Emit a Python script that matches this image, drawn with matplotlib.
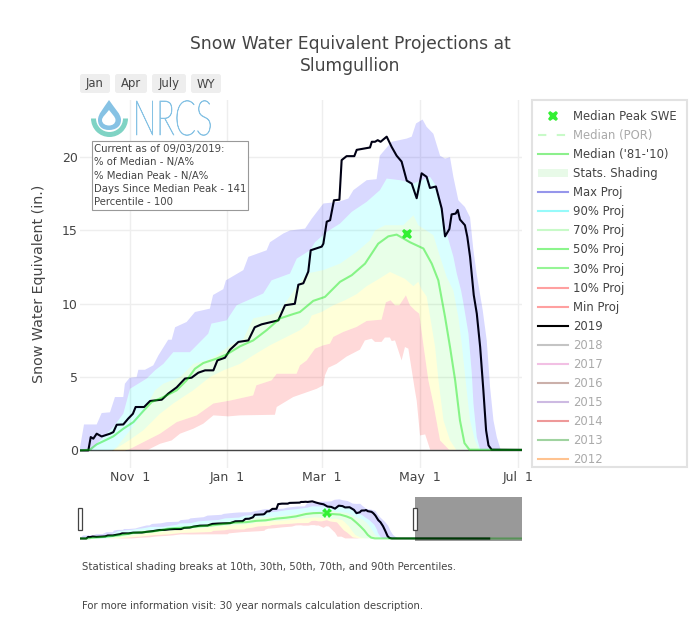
import numpy as np
import matplotlib
matplotlib.use("Agg")
import matplotlib.pyplot as plt
import matplotlib.patheffects as pe
from matplotlib.lines import Line2D
from matplotlib.patches import Patch, Rectangle, FancyBboxPatch, Wedge, PathPatch
from matplotlib.path import Path
from matplotlib.transforms import Affine2D

plt.rcParams['font.family'] = ['DejaVu Sans']

TEXT = '#444444'

# days are counted from Oct 1 of the water year, values in inches
tick_days = [31, 92, 151, 212, 273]
tick_labels = ['Nov  1', 'Jan  1', 'Mar  1', 'May  1', 'Jul  1']
y_ticks = [0, 5, 10, 15, 20]

wy2019_days = [0, 5.2, 6.7, 8.3, 10.4, 13.5, 18.7, 20.8, 22.9, 27, 30, 33, 34.7, 40, 43.7, 51, 55, 60.3, 65.5, 69.6,
               73.8, 78, 83.2, 85.7, 90.4, 93.6, 98.8, 105, 109, 113.3, 123.7, 127.9, 134, 136.2, 139.3, 142.4, 143.9,
               150.8, 151.8, 153.9, 156, 158.4, 161.8, 163.2, 166.3, 171.1, 172.6, 180.9, 182, 184, 185.7, 187.5,
               191.3, 194.4, 197.5, 200.6, 203.8, 206.9, 210, 213.1, 216.2, 218.3, 222, 225.6, 227.7, 230.4, 231.8,
               234.3, 235.6, 237, 240.1, 241.6, 243.3, 245.6, 247.5, 249.6, 251.6, 253.3, 254.8, 256.8, 337]
wy2019_vals = [0, 0, 0.91, 0.8, 1.14, 0.95, 1.14, 1.25, 1.75, 1.77, 2.16, 2.5, 2.96, 2.96, 3.37, 3.46, 3.87, 4.3, 4.9,
               4.96, 5.3, 5.46, 5.46, 6.14, 6.32, 6.87, 7.4, 7.5, 8.4, 8.6, 8.87, 9.9, 10.0, 11.3, 11.4, 12.2, 13.65,
               13.9, 14.1, 15.6, 15.7, 17.06, 17.1, 19.8, 20.07, 20.07, 20.5, 20.66, 21.05, 21.05, 21.16, 21.05,
               21.4, 20.7, 20.1, 19.7, 18.4, 18.2, 17.2, 18.9, 18.66, 17.9, 18.0, 16.5, 14.6, 15.1, 16.1,
               16.15, 16.4, 15.75, 15.36, 14.56, 13.2, 10.6, 9.33, 7.05, 4.1, 1.37, 0.34, 0.05, 0]

median_days = [0, 6.2, 10.4, 15.6, 20.8, 27, 33.3, 39.5, 44.7, 52, 60.3, 66.5, 71.7, 76.9, 85.2, 91.5, 99.8, 108, 116.4,
               124.7, 133, 137.2, 145.5, 152.8, 162.2, 169.5, 177.8, 186, 192.3, 197.5, 205.8, 214.2, 219.4, 223.5,
               227.7, 230.8, 234, 237, 239.8, 242.9, 364]
median_vals = [0, 0.05, 0.41, 0.68, 0.96, 1.48, 1.93, 2.69, 3.3, 3.64, 4.1, 4.78, 5.57, 5.96, 6.26, 6.55, 7.1, 7.5, 8.2,
               9, 9.3, 9.44, 10.2, 10.47, 11.5, 11.95, 12.74, 14.1, 14.6, 14.72, 14.2, 13.77, 12.74, 11.6,
               9.1, 7.05, 4.78, 2.05, 0.5, 0.05, 0]

max_days = [0, 2.5, 10.4, 13.5, 18.7, 21.8, 27, 28, 31, 35.3, 36.4, 40.5, 45.7, 48.9, 55, 57.2, 59.3, 66.5, 71.7, 81,
            83, 89.4, 91, 101.9, 105, 116.4, 118.5, 126.9, 131, 140.4, 144.5, 151.8, 161.1, 167.4, 170.5, 178.8, 185,
            187, 194.4, 203.8, 206.9, 209.6, 213.7, 216.2, 220.4, 224.6, 227.7, 230.8, 232.9, 236, 240.1, 243.3,
            245.4, 247.4, 251.2, 253.7, 255.8, 257.9, 260, 262.4]
max_vals = [0.2, 1.77, 1.77, 2.55, 2.6, 3.64, 3.64, 4.55, 4.96, 5, 5.5, 5.5, 5.8, 6.48, 7.55, 7.55, 8.4, 8.76, 9.44, 9.67,
            10.6, 11, 11.6, 12.3, 13.2, 13.65, 14.2, 14.8, 15.0, 15.13, 15.8, 16.84, 16.95, 17.18, 17.75, 18.43, 18.5,
            20.1, 21.05, 21.27, 21.4, 22.3, 22.57, 22.07, 21.6, 20.1, 19.9, 20, 18.66, 17.06, 16.6, 15.9,
            13.65, 12.06, 9.56, 7.5, 4.3, 2.05, 0.9, 0.05]

p90_days = [0, 7, 10.4, 20.8, 27, 31.2, 41.6, 46.8, 52, 58.2, 68.6, 80, 82, 91.5, 97.7, 114.3, 119.5, 131, 135.2, 143.5,
            146.6, 153.9, 162.2, 169.5, 178.8, 187.1, 191.3, 199.6, 207.9, 218.3, 222.5, 225.6, 228.7, 232.9, 235,
            237.7, 239.2, 242.3, 244.4, 245.4, 247.5, 249.6]
p90_vals = [0, 0, 0.45, 1.6, 2.5, 4.2, 4.9, 5.46, 5.9, 6.7, 6.7, 7.96, 8.65, 8.87, 9.9, 10.7, 11.6, 12.06, 13.08, 13.65,
            14.2, 14.9, 15.47, 16.27, 16.95, 17.75, 18.54, 18.43, 18.2, 18.66, 17.97, 16.6, 14.8, 13.2, 12.06,
            10.9, 10, 7.96, 5.23, 3.2, 0.9, 0.05]

p70_days = [0, 20, 22.9, 31.2, 39.5, 46.8, 52, 62.4, 70.7, 79, 85.2, 93.6, 101.9, 108, 120.6, 124.7, 135.2, 141.4, 151.8,
            162.2, 172.6, 180.9, 184, 190.3, 201.7, 208, 211, 220.4, 224.6, 228.7, 232.9, 236, 238.1, 241.2, 243.3,
            246.4, 249]
p70_vals = [0, 0, 0.23, 1.37, 2.6, 4.1, 4.55, 5, 5.9, 6.14, 6.48, 7.17, 7.6, 9, 9.3, 9.56, 11.15, 12.06, 12.3,
            12.74, 13.54, 14.33, 15.0, 15.36, 15.36, 16.04, 15.36, 14.68, 13.2, 11.83, 10.9, 9.1, 7.28, 4.1, 2.05,
            0.68, 0.05]

p30_days = [0, 20.8, 31.2, 39.5, 49.9, 58.2, 70.7, 81, 89.4, 99.8, 108, 118.5, 128.9, 137.2, 142.4, 144.5, 150.7, 158,
            165.3, 172.5, 178.8, 185, 193.4, 202.7, 208, 211, 213, 216.2, 218.4, 221.5, 223.6, 226.7, 230.8, 234.6]
p30_vals = [0, 0, 0.73, 1.37, 2.5, 3.2, 4.1, 5, 5.46, 5.9, 6.48, 7.17, 7.74, 8.2, 8.65, 9.2, 9.44, 9.9,
            10.24, 10.65, 11.2, 11.6, 12.17, 11.7, 11.2, 11.5, 11.0, 10.5, 9.1, 7.05, 4.78, 2.05, 0.68, 0.05]

p10_days = [0, 28, 31.2, 41.6, 49.9, 60.3, 72.8, 83.2, 93.6, 108, 110, 119.5, 122.7, 135.1, 137.2, 141.4, 146.6, 151.8,
            155.9, 158, 164.2, 172.5, 178.8, 188.1, 190.8, 193.7, 196.5, 199.2, 203.3, 205.8, 208.9, 211.6, 214.1,
            217.3, 220.4, 224.6, 230.2]
p10_vals = [0, 0, 0.1, 0.68, 1.14, 1.93, 2.39, 3.2, 3.4, 3.75, 4.44, 4.78, 5.23, 5.23, 5.8, 6.14, 6.94, 7.17,
            7.28, 7.74, 8.08, 8.42, 8.83, 8.92, 10.1, 10.24, 9.9, 9.9, 10.58, 9.9, 9.56, 9.33, 7.28,
            4.78, 3.2, 0.68, 0.05]

min_days = [0, 42.6, 49.9, 57.2, 62.4, 70.7, 76.9, 83.2, 92.5, 99.8, 121.6, 122.7, 133, 147.6, 151.8, 152.8, 154.9, 160,
            166.3, 174.6, 177.7, 181.9, 184, 188.1, 190.2, 193.3, 194.4, 196.5, 200.6, 202.7, 204.8, 208.9, 210,
            212.1, 215.3, 218.4]
min_vals = [0, 0.05, 0.45, 0.68, 1.14, 1.48, 1.82, 2.39, 2.32, 2.39, 2.43, 2.96, 3.64, 4.2, 4.44, 5.12, 5.64, 5.9,
            6.4, 6.87, 7.5, 7.62, 7.4, 7.4, 7.7, 7.7, 7.46, 7.5, 6.14, 7.05, 6.94, 4.1, 3.4,
            1.02, 1.09, 0.05]

peak_day = 203.8
peak_swe = 14.79

legend_labels = ['Median Peak SWE', 'Median (POR)', "Median ('81-'10)", 'Stats. Shading', 'Max Proj', '90% Proj',
                 '70% Proj', '50% Proj', '30% Proj', '10% Proj', 'Min Proj', '2019', '2018', '2017', '2016', '2015',
                 '2014', '2013', '2012']
hidden_labels = ['Median (POR)', '2018', '2017', '2016', '2015', '2014', '2013', '2012']
legend_colors = ['#33f033', '#c8fac8', '#8cf08c', '#e8fae8', '#9696eb', '#96fafa', '#c8fac8', '#8cf58c', '#96f596',
                 '#ffa0a0', '#ffa0a0', '#000000', '#c4c4c4', '#f2c0e4', '#cbb0aa', '#cdbae2', '#ee9999', '#a0d3a0',
                 '#ffc390']

button_labels = ['Jan', 'Apr', 'July', 'WY']
button_spans = [(80, 110), (115, 147), (152, 186), (191, 221)]

info_lines = ['Current as of 09/03/2019:', '% of Median - N/A%', '% Median Peak - N/A%',
              'Days Since Median Peak - 141', 'Percentile - 100']


class Squeeze(pe.AbstractPathEffect):
    # the logo lettering is narrower than any installed font
    def __init__(self, sx, x0):
        self.sx = sx
        self.x0 = x0

    def draw_path(self, renderer, gc, tpath, affine, rgbFace=None):
        affine = affine + Affine2D().translate(-self.x0, 0).scale(self.sx, 1).translate(self.x0, 0)
        gc0 = renderer.new_gc()
        gc0.copy_properties(gc)
        gc0.set_linewidth(0.5)
        gc0.set_foreground(rgbFace)
        renderer.draw_path(gc0, tpath, affine, rgbFace)
        gc0.restore()


def px_axes(fig, left, top, right, bottom):
    return fig.add_axes([left / 700, 1 - bottom / 622, (right - left) / 700, (bottom - top) / 622])


def draw_traces(ax, marker_size, lw):
    bands = [(min_days, min_vals, p10_days, p10_vals, (1, 0, 0), 0.15),
             (p10_days, p10_vals, p30_days, p30_vals, (1, 1, 0), 0.15),
             (p30_days, p30_vals, p70_days, p70_vals, (0, 1, 0), 0.09),
             (p70_days, p70_vals, p90_days, p90_vals, (0, 1, 1), 0.15),
             (p90_days, p90_vals, max_days, max_vals, (0, 0, 1), 0.15)]
    for low_x, low_y, up_x, up_y, color, alpha in bands:
        ax.fill(np.r_[low_x, up_x[::-1]], np.r_[low_y, up_y[::-1]], color=color, alpha=alpha, lw=0, zorder=2)
    ax.plot(wy2019_days, wy2019_vals, color='#000014', lw=lw, zorder=3, solid_joinstyle='round')
    ax.plot(median_days, median_vals, color=(0, 0.9, 0), alpha=0.42, lw=lw, zorder=4)
    ax.plot([peak_day], [peak_swe], marker='X', color='#33f033', ms=marker_size, mew=0, ls='none', zorder=5)


fig = plt.figure(figsize=(7, 6.22), dpi=100)

ax = px_axes(fig, 80, 100, 522, 468)
ax.set_xlim(0, 275.7)
ax.set_ylim(-1.2, 23.9)
ax.grid(True, color='#eeeeee', lw=1)
ax.set_axisbelow(True)
for spine in ax.spines.values():
    spine.set_visible(False)
ax.axhline(0, color=TEXT, lw=1, zorder=1.5)
draw_traces(ax, 7.5, 1.5)
ax.set_xticks(tick_days)
ax.set_xticklabels(tick_labels)
ax.set_yticks(y_ticks)
ax.tick_params(length=0, labelcolor=TEXT, labelsize=9)
ax.tick_params(axis='x', pad=2)
ax.tick_params(axis='y', pad=1.5)
ax.set_ylabel('Snow Water Equivalent (in.)', color=TEXT, fontsize=10.3, labelpad=11.5)

# range slider underneath shows the whole water year
slider = px_axes(fig, 80, 497, 522, 540.6)
slider.set_xlim(0, 364)
slider.set_ylim(-1.2, 23.9)
slider.axis('off')
draw_traces(slider, 6.5, 1.5)
slider.axvspan(275.7, 364, color='black', alpha=0.4, lw=0, zorder=6)

# overlay in figure pixels for the page furniture
page = fig.add_axes([0, 0, 1, 1], facecolor='none')
page.set_xlim(0, 700)
page.set_ylim(622, 0)
page.axis('off')

page.text(350, 55, 'Snow Water Equivalent Projections at\nSlumgullion', ha='center', va='center', color=TEXT,
          fontsize=12.3, linespacing=1.35)

for label, (x0, x1) in zip(button_labels, button_spans):
    page.add_patch(FancyBboxPatch((x0, 74), x1 - x0, 19, boxstyle='round,pad=0,rounding_size=2.5',
                                  fc='#eeeeee', ec='none', lw=0))
    page.text((x0 + x1) / 2, 87.5, label, ha='center', va='baseline', color=TEXT, fontsize=8.4)

# logo
logo_blue = '#86c2e4'
page.add_patch(Wedge((109.5, 118.5), 18.5, 0, 180, width=5, fc='#7fd3c4', lw=0))
drop = Path([(109, 100), (103, 109), (98, 114), (98, 120), (98, 127), (103, 130), (109, 130),
             (115, 130), (121, 127), (121, 120), (121, 114), (115, 109), (109, 100)],
            [Path.MOVETO] + [Path.CURVE4] * 12)
page.add_patch(PathPatch(drop, fc=logo_blue, lw=0))
inner = Path([(109, 110), (106, 114), (102, 117), (102, 120), (102, 124), (106, 125.5), (109, 125.5),
              (112, 125.5), (115.5, 124), (115.5, 120), (115.5, 117), (112, 114), (109, 110)],
             [Path.MOVETO] + [Path.CURVE4] * 12)
page.add_patch(PathPatch(inner, fc='white', lw=0))
page.text(133, 135, 'NRCS', ha='left', va='baseline', color=logo_blue, fontsize=35, family='Lato', weight='light',
          path_effects=[Squeeze(0.64, 133)])

page.add_patch(Rectangle((92, 141), 156, 69, fc='white', ec='#999999', lw=0.8, zorder=3))
for i, line in enumerate(info_lines):
    page.text(94.5, 149.3 + i * 13.1, line, ha='left', va='center', color=TEXT, fontsize=7.3, zorder=4)

# legend, its box is cut off at the last visible row like the scrolling original
page.add_patch(Rectangle((532, 100), 155, 366.5, fc='white', ec='#e2e2e2', lw=1.5))
handles = []
for label, color in zip(legend_labels, legend_colors):
    if label == 'Median Peak SWE':
        handles.append(Line2D([], [], color=color, marker='X', ms=7.5, mew=0, ls='none'))
    elif label == 'Median (POR)':
        handles.append(Line2D([], [], color=color, ls=(0, (4, 5)), lw=1.5))
    elif label == 'Stats. Shading':
        handles.append(Patch(fc=color, ec='none'))
    else:
        handles.append(Line2D([], [], color=color, lw=1.5))
legend = page.legend(handles, legend_labels, loc='upper left', bbox_to_anchor=(538 / 700, 1 - 110 / 622),
                     frameon=False, fontsize=8.4, borderpad=0, borderaxespad=0, handlelength=2.55,
                     handletextpad=0.42, labelspacing=0.52)
for text in legend.get_texts():
    text.set_color('#aaaaaa' if text.get_text() in hidden_labels else TEXT)

# range slider grips
for x in (79.5, 415.3):
    page.add_patch(Rectangle((x - 2, 508), 4, 22, fc='white', ec='#444444', lw=0.9, zorder=7))

page.text(82, 567, 'Statistical shading breaks at 10th, 30th, 50th, 70th, and 90th Percentiles.', ha='left',
          va='center', color=TEXT, fontsize=7.28)
page.text(82, 606, 'For more information visit: 30 year normals calculation description.', ha='left',
          va='center', color=TEXT, fontsize=7.28)

fig.savefig('out.png', dpi=100)
